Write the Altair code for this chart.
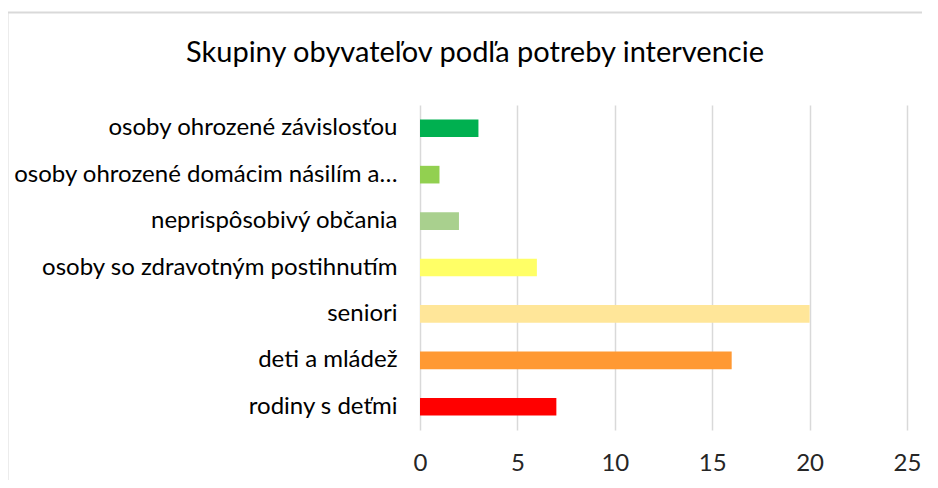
import altair as alt
import pandas as pd

title_text = ["Skupiny obyvateľov podľa potreby intervencie"]
categories = [
    "osoby ohrozené závislosťou",
    "osoby ohrozené domácim násilím a…",
    "neprispôsobivý občania",
    "osoby so zdravotným postihnutím",
    "seniori",
    "deti a mládež",
    "rodiny s deťmi",
]
values = [3, 1, 2, 6, 20, 16, 7]
colors = ["#00B050", "#92D050", "#A9D08E", "#FFFF66", "#FFE699", "#FF9933", "#FF0000"]
x_ticks = [0, 5, 10, 15, 20, 25]

df = pd.DataFrame({"cat": categories, "val": values, "col": colors})
tdf = pd.DataFrame({"t": title_text})

FONT = "Lato"

bars = alt.Chart(df).mark_bar().encode(
    y=alt.Y("cat:N", sort=categories,
            scale=alt.Scale(paddingInner=0.62, paddingOuter=0.31),
            axis=alt.Axis(title=None, ticks=False, domain=False, grid=False,
                          labelFont=FONT, labelFontSize=24, labelColor="#000000",
                          labelPadding=23, labelLimit=420)),
    x=alt.X("val:Q", scale=alt.Scale(domain=[0, 25], nice=False),
            axis=alt.Axis(title=None, values=x_ticks, ticks=False, domain=False,
                          grid=True, gridColor="#D9D9D9", gridWidth=1.5,
                          labelFont=FONT, labelFontSize=24, labelColor="#262626",
                          labelPadding=21, labelFlush=False)),
    color=alt.Color("col:N", scale=None, legend=None),
)

title_mark = alt.Chart(tdf).mark_text(
    font=FONT, fontSize=29, color="#000000", align="center", baseline="middle"
).encode(text="t:N", x=alt.value(55), y=alt.value(-52))

frame_left = alt.Chart(tdf).mark_rule(color="#D9D9D9", strokeWidth=2).encode(
    x=alt.value(-412.5), y=alt.value(-92.5), y2=alt.value(400)
)
frame_top = alt.Chart(tdf).mark_rule(color="#D9D9D9", strokeWidth=2).encode(
    x=alt.value(-412.5), x2=alt.value(530), y=alt.value(-92.5)
)

chart = alt.layer(bars, title_mark, frame_left, frame_top).properties(
    width=487,
    height=325,
    autosize=alt.AutoSizeParams(type="none"),
    padding={"left": 412, "top": 97, "right": 15, "bottom": 50},
).configure_view(stroke=None)

chart.save("out.html", embed_options={"renderer": "svg", "actions": False})
